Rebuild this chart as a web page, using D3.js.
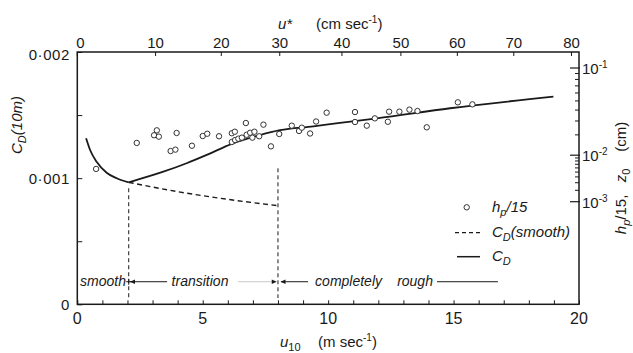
<!DOCTYPE html>
<html><head><meta charset="utf-8">
<script src="https://cdn.jsdelivr.net/npm/d3@7"></script>
<style>
html,body{margin:0;padding:0;background:#fff;}
svg text{font-family:"Liberation Sans",Arial,sans-serif;fill:#1a1a1a;}
</style></head>
<body><svg id="c" width="633" height="353"></svg>
<script>
// ---------- data ----------
const bottomTicks = [0,5,10,15,20];
const topTickLabels = ["0","10","20","30","40","50","60","70","80"];
const topTickU10 = [0,3.12,5.74,8.07,10.55,12.9,15.15,17.4,19.7];
const leftTicks = [0,0.0005,0.001,0.0015,0.002];
const leftTickLabels = ["0","","0·001","","0·002"];
const rightMajor = [1e-3,1e-2,1e-1];
const rightMajorExp = ["-3","-2","-1"];
const rightMinor = [2e-3,3e-3,4e-3,5e-3,6e-3,7e-3,8e-3,9e-3,2e-2,3e-2,4e-2,5e-2,6e-2,7e-2,8e-2,9e-2];
// h_p/15 observations (u10 in m/s, CD)
const hpU = [0.75,2.37,3.06,3.17,3.25,3.72,3.91,3.96,4.57,5.0,5.18,5.65,6.16,6.28,6.16,6.29,6.42,6.56,6.72,6.75,6.89,6.98,7.06,7.25,7.42,7.72,8.05,8.55,8.84,8.95,9.28,9.52,9.94,11.07,11.07,11.54,11.86,12.38,12.43,12.84,13.24,13.56,13.93,15.17,15.75];
const hpCD = [0.001073,0.001279,0.001340,0.001379,0.001329,0.001215,0.001226,0.001358,0.001257,0.001334,0.001352,0.001332,0.001356,0.001368,0.001287,0.001302,0.001313,0.001321,0.001437,0.001344,0.001360,0.001321,0.001368,0.001332,0.001424,0.001252,0.001350,0.001416,0.001374,0.001400,0.001354,0.001449,0.001519,0.001524,0.001445,0.001416,0.001474,0.001447,0.001527,0.001527,0.001543,0.001532,0.001403,0.001601,0.001585];
// C_D curve: smooth-flow branch and rough branch
const cdDownU = [0.35,0.51,0.77,1.17,1.57,2.05];
const cdDownV = [0.001316,0.001223,0.001130,0.001043,0.000999,0.000967];
const cdUpU = [2.05,3.43,4.36,5.16,6.16,7.28,8.08,9.41,10.47,11.94,14.86,18.98];
const cdUpV = [0.000967,0.001051,0.001118,0.001184,0.001272,0.001342,0.001380,0.001410,0.001438,0.001474,0.001554,0.001646];
// C_D (smooth)
const smU = [2.05,4.0,6.0,8.0];
const smV = [0.000967,0.000893,0.000832,0.000782];
// regime boundaries
const regimeU = [2.05,8.0];
const regimeTop = [0.00092,0.001078];

// ---------- setup ----------
const svg = d3.select("#c");
const col = "#1a1a1a";
const x = d3.scaleLinear().domain([0,20]).range([77.3,579]);
const y = d3.scaleLinear().domain([0,0.002]).range([304.3,52]);
const kap = 0.385, zr = 730;
const z0toCD = z => Math.pow(kap/Math.log(zr/z),2);

// frame
svg.append("rect").attr("x",x(0)).attr("y",y(0.002)).attr("width",x(20)-x(0)).attr("height",y(0)-y(0.002))
  .attr("fill","none").attr("stroke",col).attr("stroke-width",1.5);

// bottom axis (ticks inward)
const bAx = d3.axisBottom(x).tickValues(d3.range(0,21,1)).tickSize(-4).tickFormat("");
svg.append("g").attr("transform",`translate(0,${y(0)})`).call(bAx)
  .call(g=>{g.select(".domain").remove(); g.selectAll("line").attr("stroke",col);});
svg.append("g").selectAll("text").data(bottomTicks).join("text")
  .attr("x",d=>x(d)).attr("y",324).attr("text-anchor","middle").attr("font-size",16).text(d=>d);

// left axis
const lAx = d3.axisLeft(y).tickValues(leftTicks).tickSize(-5).tickFormat("");
svg.append("g").attr("transform",`translate(${x(0)},0)`).call(lAx)
  .call(g=>{g.select(".domain").remove(); g.selectAll("line").attr("stroke",col);});
svg.append("g").selectAll("text").data(leftTicks.map((v,i)=>({v,l:leftTickLabels[i]}))).join("text")
  .attr("x",70).attr("y",d=>y(d.v)+(d.v===0.002?3:0)).attr("dy","0.36em").attr("text-anchor","end")
  .attr("font-size",15).attr("letter-spacing",0.6).text(d=>d.l);

// top axis (u*)
svg.append("g").selectAll("line").data(topTickU10).join("line")
  .attr("x1",d=>x(d)).attr("x2",d=>x(d)).attr("y1",y(0.002)).attr("y2",y(0.002)+4).attr("stroke",col);
svg.append("g").selectAll("text").data(topTickU10.map((u,i)=>({u,l:topTickLabels[i]}))).join("text")
  .attr("x",(d,i)=>x(d.u)+(i===0?3:0)).attr("y",48).attr("text-anchor","middle").attr("font-size",15).text(d=>d.l);

// right axis (z0 log, mapped through CD)
svg.append("g").selectAll("line").data(rightMajor).join("line")
  .attr("x1",x(20)-9).attr("x2",x(20)+1).attr("y1",d=>y(z0toCD(d))).attr("y2",d=>y(z0toCD(d))).attr("stroke",col).attr("stroke-width",1.2);
svg.append("g").selectAll("line").data(rightMinor).join("line")
  .attr("x1",x(20)-4).attr("x2",x(20)).attr("y1",d=>y(z0toCD(d))).attr("y2",d=>y(z0toCD(d))).attr("stroke",col);
const rl = svg.append("g").selectAll("text").data(rightMajor.map((v,i)=>({v,e:rightMajorExp[i]}))).join("text")
  .attr("x",582).attr("y",d=>y(z0toCD(d.v))+6).attr("font-size",15);
rl.append("tspan").text("10");
rl.append("tspan").attr("dy",-6).attr("font-size",10).text(d=>d.e);

// titles
const tt = svg.append("text").attr("x",278).attr("y",29).attr("font-size",15);
tt.append("tspan").attr("font-style","italic").text("u*");
tt.append("tspan").attr("x",316).text("(cm sec");
tt.append("tspan").attr("dy",-6).attr("font-size",10).text("-1");
tt.append("tspan").attr("dy",6).text(")");

const bt = svg.append("text").attr("x",280).attr("y",347).attr("font-size",15);
bt.append("tspan").attr("font-style","italic").text("u");
bt.append("tspan").attr("dy",4).attr("font-size",11).text("10");
bt.append("tspan").attr("x",318).attr("dy",-4).text("(m sec");
bt.append("tspan").attr("dy",-6).attr("font-size",10).text("-1");
bt.append("tspan").attr("dy",6).text(")");

const lt = svg.append("text").attr("transform","translate(22,125) rotate(-90)").attr("text-anchor","middle")
  .attr("font-size",15).attr("font-style","italic");
lt.append("tspan").text("C");
lt.append("tspan").attr("dy",4).attr("font-size",11).text("D");
lt.append("tspan").attr("dy",-4).text("(10m)");

const rt = svg.append("text").attr("transform","translate(626,178) rotate(-90)").attr("text-anchor","middle")
  .attr("font-size",15);
rt.append("tspan").attr("font-style","italic").text("h");
rt.append("tspan").attr("dy",4).attr("font-size",11).attr("font-style","italic").text("p");
rt.append("tspan").attr("dy",-4).text("/15,\u00a0\u00a0\u00a0");
rt.append("tspan").attr("font-style","italic").text("z");
rt.append("tspan").attr("dy",4).attr("font-size",11).text("0");
rt.append("tspan").attr("dy",-4).text("\u00a0\u00a0\u00a0\u00a0(cm)");

// regime verticals
svg.append("g").selectAll("line").data(regimeU.map((u,i)=>({u,t:regimeTop[i]}))).join("line")
  .attr("x1",d=>x(d.u)).attr("x2",d=>x(d.u)).attr("y1",d=>y(d.t)).attr("y2",y(0.00005))
  .attr("stroke",col).attr("stroke-width",1).attr("stroke-dasharray","4,3");

// curves
const line = d3.line().x(d=>x(d[0])).y(d=>y(d[1])).curve(d3.curveMonotoneX);
svg.append("path").datum(smU.map((u,i)=>[u,smV[i]])).attr("d",line).attr("fill","none")
  .attr("stroke",col).attr("stroke-width",1.4).attr("stroke-dasharray","5,3.5");
svg.append("path").datum(cdDownU.map((u,i)=>[u,cdDownV[i]])).attr("d",line)
  .attr("fill","none").attr("stroke",col).attr("stroke-width",1.8);
svg.append("path").datum(cdUpU.map((u,i)=>[u,cdUpV[i]])).attr("d",line)
  .attr("fill","none").attr("stroke",col).attr("stroke-width",1.8);

// points
svg.append("g").selectAll("circle").data(hpU.map((u,i)=>[u,hpCD[i]])).join("circle")
  .attr("cx",d=>x(d[0])).attr("cy",d=>y(d[1])).attr("r",2.7)
  .attr("fill","#fff").attr("stroke","#333").attr("stroke-width",1);

// regime annotation row
const ay = y(0.000179);
const ann = svg.append("g").attr("font-size",14).attr("font-style","italic");
ann.append("text").attr("x",x(0.11)).attr("y",ay+4).text("smooth");
ann.append("text").attr("x",x(3.76)).attr("y",ay+4).text("transition");
ann.append("text").attr("x",x(9.48)).attr("y",ay+4).text("completely");
ann.append("text").attr("x",x(12.75)).attr("y",ay+4).text("rough");
const seg = (a,b,c,w)=>svg.append("line").attr("x1",x(a)).attr("x2",x(b)).attr("y1",ay).attr("y2",ay).attr("stroke",c).attr("stroke-width",w||1);
seg(1.95,2.15,col,1);
seg(2.1,3.58,col,1);
seg(6.41,7.9,"#c8c8c8",1);
seg(8.12,9.2,col,1);
seg(14.34,16.77,col,1);
const arrow = (u,dir)=>{const px=x(u);svg.append("path").attr("d",`M${px},${ay} l${-dir*5},-2.2 l0,4.4 z`).attr("fill",col);};
arrow(2.1,-1); arrow(7.95,1); arrow(8.1,-1);
svg.append("line").attr("x1",x(2.05)).attr("x2",x(2.05)).attr("y1",ay-3).attr("y2",ay+3).attr("stroke",col);

// legend
const lg = svg.append("g").attr("font-size",15).attr("font-style","italic");
lg.append("circle").attr("cx",466.7).attr("cy",207.3).attr("r",2.7).attr("fill","#fff").attr("stroke","#333");
lg.append("line").attr("x1",455).attr("x2",480).attr("y1",232.7).attr("y2",232.7).attr("stroke",col).attr("stroke-width",1.3).attr("stroke-dasharray","4,3");
lg.append("line").attr("x1",457).attr("x2",480).attr("y1",256.7).attr("y2",256.7).attr("stroke",col).attr("stroke-width",1.5);
const l1 = lg.append("text").attr("x",492).attr("y",212);
l1.append("tspan").text("h"); l1.append("tspan").attr("dy",4).attr("font-size",11).text("p"); l1.append("tspan").attr("dy",-4).text("/15");
const l2 = lg.append("text").attr("x",492).attr("y",237);
l2.append("tspan").text("C"); l2.append("tspan").attr("dy",4).attr("font-size",11).text("D"); l2.append("tspan").attr("dy",-4).text("(smooth)");
const l3 = lg.append("text").attr("x",492).attr("y",261);
l3.append("tspan").text("C"); l3.append("tspan").attr("dy",4).attr("font-size",11).text("D");
</script></body></html>
